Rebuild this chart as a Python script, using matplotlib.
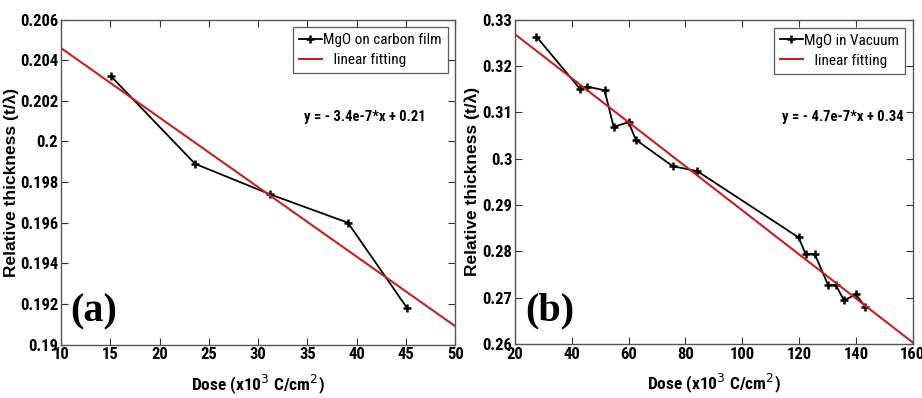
import matplotlib.pyplot as plt

# panel (a): MgO on carbon film
dose_a = [15.1, 23.6, 31.2, 39.1, 45.1]
thick_a = [0.2032, 0.1989, 0.1974, 0.1960, 0.1918]
fit_x_a = [10, 50]
fit_y_a = [0.2046, 0.1909]
xticks_a = [10, 15, 20, 25, 30, 35, 40, 45, 50]
yticks_a = [0.19, 0.192, 0.194, 0.196, 0.198, 0.2, 0.202, 0.204, 0.206]
ylabels_a = ["0.19", "0.192", "0.194", "0.196", "0.198", "0.2", "0.202", "0.204", "0.206"]

# panel (b): MgO in vacuum
dose_b = [27.5, 43.0, 45.2, 51.5, 54.7, 60.0, 62.5, 75.5, 84.2,
          119.8, 122.3, 125.5, 130.2, 132.9, 135.8, 140.0, 143.3]
thick_b = [0.3264, 0.3150, 0.3156, 0.3148, 0.3069, 0.3079, 0.3041, 0.2984, 0.2973,
           0.2830, 0.2794, 0.2794, 0.2727, 0.2727, 0.2694, 0.2707, 0.2680]
fit_x_b = [20, 160]
fit_y_b = [0.3269, 0.2603]
xticks_b = [20, 40, 60, 80, 100, 120, 140, 160]
yticks_b = [0.26, 0.27, 0.28, 0.29, 0.3, 0.31, 0.32, 0.33]
ylabels_b = ["0.26", "0.27", "0.28", "0.29", "0.3", "0.31", "0.32", "0.33"]

narrow = ["Liberation Sans Narrow", "Arial Narrow", "Roboto Condensed",
          "DejaVu Sans Condensed", "Liberation Sans", "DejaVu Sans"]
red = "#c42222"

fig = plt.figure(figsize=(9.22, 3.98), dpi=100)
ax_a = fig.add_axes([0.066, 0.134, 0.428, 0.817])
ax_b = fig.add_axes([0.5586, 0.136, 0.4314, 0.814])

panels = [
    (ax_a, dose_a, thick_a, fit_x_a, fit_y_a, xticks_a, yticks_a, ylabels_a,
     "MgO on carbon film", "y = - 3.4e-7*x + 0.21", "(a)", 0.77, -0.106),
    (ax_b, dose_b, thick_b, fit_x_b, fit_y_b, xticks_b, yticks_b, ylabels_b,
     "MgO in Vacuum", "y = - 4.7e-7*x + 0.34", "(b)", 0.825, -0.087),
]

for ax, x, y, fx, fy, xt, yt, yl, name, eq, tag, eq_x, ylab_x in panels:
    ax.plot(x, y, "-", color="black", lw=1.3, marker="+", ms=6, mew=1.8, label=name)
    ax.plot(fx, fy, "-", color=red, lw=1.5, label="   linear fitting")
    ax.set_xlim(xt[0], xt[-1])
    ax.set_ylim(yt[0], yt[-1])
    ax.set_xticks(xt)
    ax.set_yticks(yt)
    ax.set_yticklabels(yl)
    ax.tick_params(direction="in", top=True, right=True, length=5, width=0.8,
                   colors="#333333", labelcolor="black", pad=2)
    for lab in ax.get_xticklabels() + ax.get_yticklabels():
        lab.set_family(narrow)
        lab.set_stretch("condensed")
        lab.set_fontsize(12)
        lab.set_fontweight("bold")
    for sp in ax.spines.values():
        sp.set_color("#555555")
        sp.set_linewidth(1.0)
    ax.set_xlabel("Dose (x10$^3$ C/cm$^2$)", family=narrow, stretch="condensed",
                  fontsize=12.5, fontweight="bold")
    ax.xaxis.set_label_coords(0.5, -0.085)
    ax.set_ylabel("Relative thickness (t/\u03bb)", family=["Liberation Sans", "DejaVu Sans"],
                  fontsize=12.5, fontweight="bold")
    ax.yaxis.set_label_coords(ylab_x, 0.5)
    leg = ax.legend(loc="upper right", prop={"family": narrow, "size": 11,
                                             "stretch": "condensed"},
                    frameon=True, fancybox=False, borderaxespad=0.5,
                    handlelength=1.5, handletextpad=0.1, labelspacing=0.4,
                    borderpad=0.4)
    leg.get_frame().set_edgecolor("#333333")
    leg.get_frame().set_linewidth(0.9)
    ax.text(eq_x, 0.70, eq, transform=ax.transAxes, ha="center", va="center",
            family=narrow, stretch="condensed", fontsize=10.5, fontweight="bold")
    ax.text(0.025, 0.045, tag, transform=ax.transAxes, ha="left", va="bottom",
            family=["Liberation Serif", "DejaVu Serif"], fontsize=29, fontweight="bold")

fig.savefig("out.png", dpi=100)
